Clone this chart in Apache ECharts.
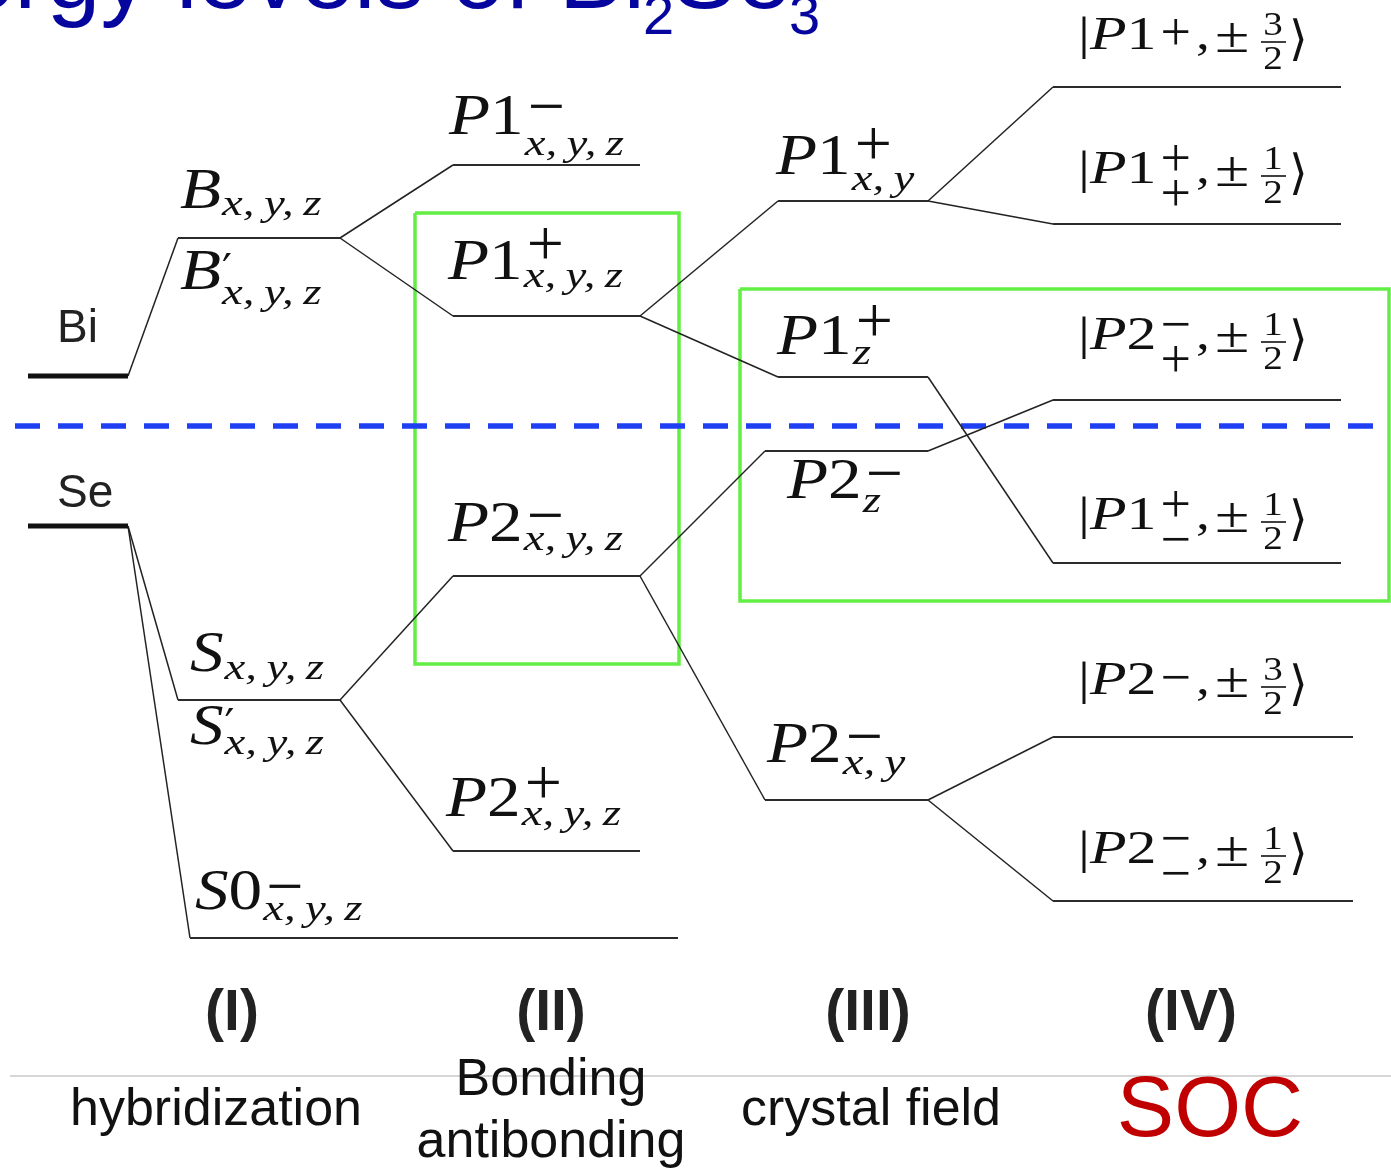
<!DOCTYPE html>
<html><head><meta charset="utf-8">
<script src="https://cdn.jsdelivr.net/npm/echarts@6.0.0/dist/echarts.min.js"></script>
<style>html,body{margin:0;padding:0;background:#fff;overflow:hidden}#c{width:1391px;height:1170px}</style>
</head><body><div id="c"></div>
<script>
// ---------------- data ----------------
// energy levels (energy measured from the Fermi level = 0, arbitrary units)
const levelNames  = ['Bi','Se','B','S','S0','P1m','P1p','P2m','P2p','P1xy','P1z','P2z','P2xy','K1','K2','K3','K4','K5','K6'];
const levelEnergy = [50,-100,188,-274,-512,261,110,-150,-425,225,49,-25,-374,339,202,26,-137,-311,-475];
const levelStart  = [28,28,178,178,190,453,453,453,453,778,778,765,765,1053,1053,1053,1053,1053,1053];
const levelEnd    = [128,128,340,340,678,640,640,640,640,928,928,928,928,1341,1341,1341,1341,1353,1353];
const thickLevels = ['Bi','Se'];
const links = [['Bi','B'],['Se','S'],['Se','S0'],['B','P1m'],['B','P1p'],['S','P2m'],['S','P2p'],
  ['P1p','P1xy'],['P1p','P1z'],['P2m','P2z'],['P2m','P2xy'],
  ['P1xy','K1'],['P1xy','K2'],['P1z','K4'],['P2z','K3'],['P2xy','K5'],['P2xy','K6']];
const fermiEnergy = 0;
const boxes = [[415,213,679,-238],[740,137,1389,-175]]; // x0,E0,x1,E1
const stageNumerals = ['(I)','(II)','(III)','(IV)'];
const stageNames = ['hybridization','Bonding\nantibonding','crystal field','SOC'];
const atomNames = ['Bi','Se'];
const titleParts = ['Energy levels of Bi','2','Se','3'];

// ---------------- layout ----------------
const SERIF='"Liberation Serif","Times New Roman",serif';
const SANS='"Liberation Sans",Arial,Helvetica,sans-serif';
const SIGN='"DejaVu Sans","DejaVu Serif",sans-serif';
const MID=0.34, SIGNC=0.43;
const G=[];
function T(text,x,base,size,o){
  o=o||{};
  const fam=o.fam||SERIF;
  const font=(o.style||'normal')+' '+(o.weight||'normal')+' '+size+'px '+fam;
  const al=o.align||'left';
  return {type:'text',x:x,y:base-MID*size,scaleX:o.sx||1,silent:true,z:20,
    style:{text:text,font:font,fill:o.fill||'#111',align:al,textAlign:al,verticalAlign:'middle',textVerticalAlign:'middle'}};
}
const ADV={P:.611,B:.611,S:.5,'0':.5,'1':.5,'2':.5,'|':.2};
const ITAL={P:1,B:1,S:1};
function mainRun(str,x,b,size,sx){
  let cx=x;
  for(const ch of str){ G.push(T(ch,cx,b,size,{style:ITAL[ch]?'italic':'normal',sx:sx})); cx+=ADV[ch]*size*sx; }
  return cx;
}
const TS='\u2009';
function subText(s){return s.split(',').join(','+TS);}
const mathLabels=[
 {x:180,b:212,base:'B',sub:'x,y,z',subB:218},
 {x:180,b:293,base:'B',prime:true,sub:'x,y,z',subB:307},
 {x:190,b:675,base:'S',sub:'x,y,z',subB:682},
 {x:190,b:748,base:'S',prime:true,sub:'x,y,z',subB:757},
 {x:195,b:913,base:'S0',sup:'\u2212',supC:885,sub:'x,y,z',subB:923},
 {x:449,b:138,base:'P1',sup:'\u2212',supC:105,sub:'x,y,z',subB:158},
 {x:448,b:283,base:'P1',sup:'+',supC:242,sub:'x,y,z',subB:290},
 {x:448,b:545,base:'P2',sup:'\u2212',supC:514,sub:'x,y,z',subB:553},
 {x:446,b:820,base:'P2',sup:'+',supC:781,sub:'x,y,z',subB:828},
 {x:776,b:178,base:'P1',sup:'+',supC:142,sub:'x,y',subB:193},
 {x:777,b:358,base:'P1',sup:'+',supC:319,sub:'z',subB:367},
 {x:787,b:502,base:'P2',sup:'\u2212',supC:472,sub:'z',subB:515},
 {x:767,b:766,base:'P2',sup:'\u2212',supC:735,sub:'x,y',subB:777}
];
const kets=[
 {b:53,base:'P1',sup:'+',num:'3'},
 {b:187,base:'P1',sup:'+',sub:'+',num:'1'},
 {b:353,base:'P2',sup:'\u2212',sub:'+',num:'1'},
 {b:533,base:'P1',sup:'+',sub:'\u2212',num:'1'},
 {b:698,base:'P2',sup:'\u2212',num:'3'},
 {b:867,base:'P2',sup:'\u2212',sub:'\u2212',num:'1'}
];
const MF=56,MSX=1.2,SF=36,SSX=1.3,SS=66;
mathLabels.forEach(L=>{
  const end=mainRun(L.base,L.x,L.b,MF,MSX);
  if(L.prime) G.push(T('\u2032',end+1,L.b-3,44,{fam:SIGN}));
  if(L.sup) G.push(T(L.sup,end+4,L.supC+SIGNC*SS,SS));
  if(L.sub) G.push(T(subText(L.sub),end+1,L.subB,SF,{style:'italic',sx:SSX}));
});
const KX=1078,KF=46,KSX=1.3,KSS=54,FF=34;
kets.forEach(K=>{
  const end=mainRun('|'+K.base,KX,K.b,KF,KSX);
  const supC=K.sub?K.b-30:K.b-22;
  G.push(T(K.sup,end+4,supC+SIGNC*KSS,KSS));
  if(K.sub) G.push(T(K.sub,end+4,K.b+5+SIGNC*KSS,KSS));
  G.push(T(',',1196,K.b,KF,{sx:1.2}));
  G.push(T('\u00b1',1215,K.b+3,KF+4,{sx:1.25}));
  G.push(T(K.num,1273,K.b-15,FF,{align:'center',sx:1.15}));
  G.push({type:'line',silent:true,z:20,shape:{x1:1261,y1:K.b-11,x2:1286,y2:K.b-11},style:{stroke:'#111',lineWidth:1.6}});
  G.push(T('2',1273,K.b+19,FF,{align:'center',sx:1.15}));
  G.push(T('\u27e9',1289,K.b+6,48,{fam:SIGN}));
});
// atoms
const atomPos=[[57,345],[57,510]];
atomNames.forEach((n,i)=>G.push(T(n,atomPos[i][0],atomPos[i][1],46,{fam:SANS,fill:'#222'})));
// title
const TC='#06069e';
G.push(T(titleParts[0],645,14,97,{fam:SANS,fill:TC,align:'right'}));
G.push(T(titleParts[1],643,38,56,{fam:SANS,fill:TC}));
G.push(T(titleParts[2],672,14,97,{fam:SANS,fill:TC}));
G.push(T(titleParts[3],789,38,56,{fam:SANS,fill:TC}));
// stage numerals and names
const numX=[232,551,868,1191];
stageNumerals.forEach((s,i)=>G.push(T(s,numX[i],1034,57,{fam:SANS,weight:'bold',fill:'#222',align:'center'})));
const nameLayout=[[216,[1128],52,'#111'],[551,[1098,1160],52,'#111'],[871,[1128],52,'#111'],[1210,[1142],86,'#c00000']];
stageNames.forEach((s,i)=>{
  const [cx,bs,sz,col]=nameLayout[i];
  s.split('\n').forEach((line,j)=>G.push(T(line,cx,bs[j],sz,{fam:SANS,fill:col,align:'center'})));
});
G.push({type:'line',silent:true,z:5,shape:{x1:10,y1:1076,x2:1391,y2:1076},style:{stroke:'#c8c8c8',lineWidth:1.5}});

// ---------------- series ----------------
const idx=n=>levelNames.indexOf(n);
const thinData=[],thickData=[];
levelNames.forEach((n,i)=>{
  const d={coords:[[levelStart[i],levelEnergy[i]],[levelEnd[i],levelEnergy[i]]]};
  (thickLevels.includes(n)?thickData:thinData).push(d);
});
const linkData=links.map(([p,c])=>({coords:[[levelEnd[idx(p)],levelEnergy[idx(p)]],[levelStart[idx(c)],levelEnergy[idx(c)]]]}));
const boxData=boxes.map(([x0,e0,x1,e1])=>({coords:[[x0,e0],[x1,e0],[x1,e1],[x0,e1],[x0,e0]]}));
function L(data,ls,z){return {type:'lines',coordinateSystem:'cartesian2d',polyline:true,silent:true,animation:false,z:z,
  lineStyle:Object.assign({opacity:1,curveness:0},ls),data:data};}

const chart=echarts.init(document.getElementById('c'),null,{renderer:'canvas',width:1391,height:1170});
chart.setOption({
  animation:false,
  backgroundColor:'#fff',
  grid:{left:0,right:0,top:0,bottom:0,containLabel:false},
  xAxis:{type:'value',min:0,max:1391,show:false},
  yAxis:{type:'value',min:-744,max:426,show:false},
  series:[
    L(boxData,{color:'#63ee46',width:3.5},2),
    L([{coords:[[15,fermiEnergy],[1391,fermiEnergy]]}],{color:'#1f3ff2',width:5.5,type:[25,18]},3),
    L(linkData,{color:'#222',width:1.5},4),
    L(thinData,{color:'#2b2b2b',width:2},4),
    L(thickData,{color:'#111',width:5},4)
  ],
  graphic:{elements:G}
});
</script></body></html>
